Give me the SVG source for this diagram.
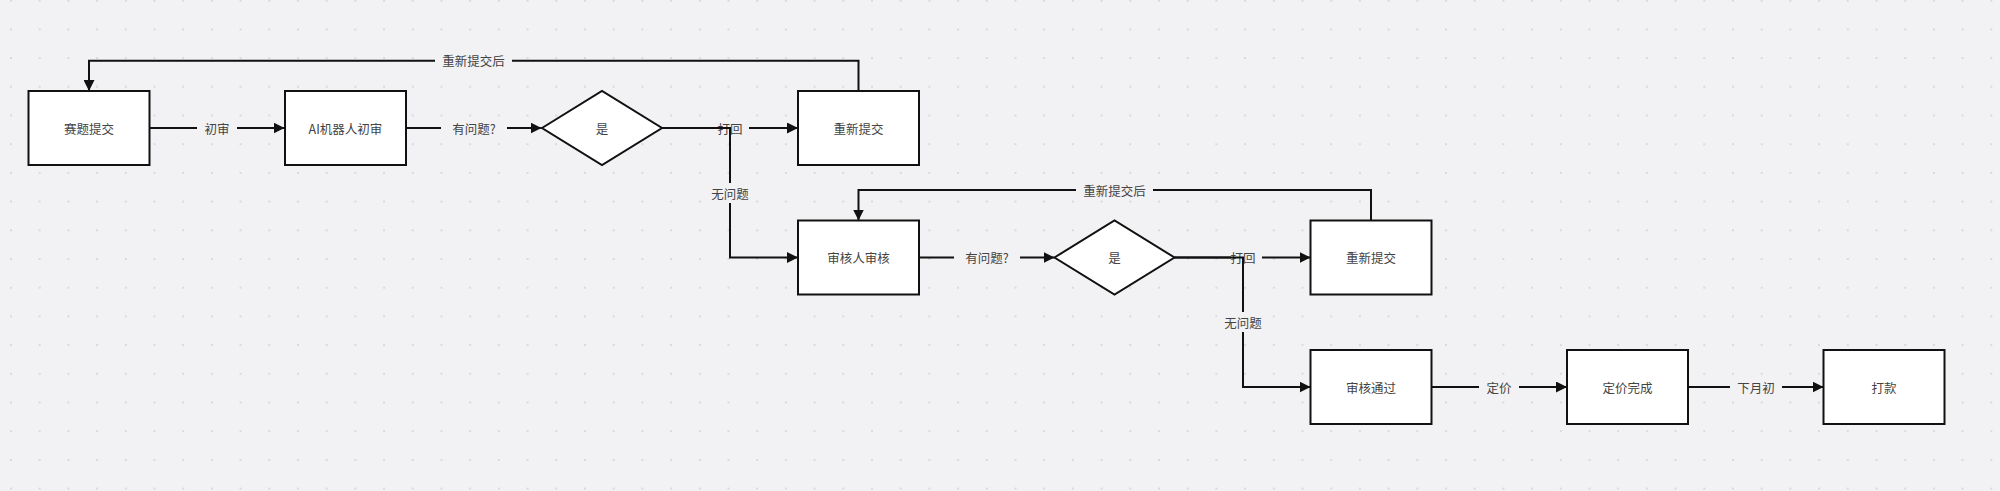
<svg xmlns="http://www.w3.org/2000/svg" width="2000" height="491" viewBox="0 0 2000 491">
<defs>
<pattern id="dots" patternUnits="userSpaceOnUse" x="10" y="-0.3" width="28.7" height="28.7">
<circle cx="1" cy="1" r="1" fill="#d2d2d6"/>
</pattern>
<marker id="arr" markerUnits="userSpaceOnUse" markerWidth="11" markerHeight="11" refX="10" refY="5" orient="auto" viewBox="0 0 10 10">
<path d="M0,0 L10,5 L0,10 z" fill="#111"/>
</marker>
<style>
.box{fill:#ffffff;stroke:#111;stroke-width:2}
.nt{font-family:"Noto Sans CJK SC","Noto Sans",sans-serif;font-size:12.5px;fill:#444;text-anchor:middle;dominant-baseline:central}
.ln{fill:none;stroke:#111;stroke-width:2}
.arw{marker-end:url(#arr)}
.lb{fill:#f2f2f4}
.lt{font-family:"Noto Sans CJK SC","Noto Sans",sans-serif;font-size:12.5px;fill:#444;text-anchor:middle;dominant-baseline:central}
</style>
</defs>
<rect width="2000" height="491" fill="#f2f2f4"/>
<rect width="2000" height="491" fill="url(#dots)"/>

<g id="connectors">
<g id="e1"><path class="ln arw" d="M149.5,128 H284.5"/><rect class="lb" x="197" y="119" width="40" height="18"/><text class="lt" x="217" y="128">初审</text></g>
<g id="e2"><path class="ln arw" d="M406,128 H541.5"/><rect class="lb" x="441" y="119" width="66" height="18"/><text class="lt" x="474" y="128">有问题?</text></g>
<g id="e3"><path class="ln arw" d="M662,128 H798"/><rect class="lb" x="718" y="119" width="31" height="18"/><text class="lt" x="730" y="128">打回</text></g>
<g id="e4"><path class="ln arw" d="M662,128 H730 V257.5 H798"/><rect class="lb" x="704" y="183" width="52" height="20"/><text class="lt" x="730" y="193">无问题</text></g>
<g id="e5"><path class="ln arw" d="M858.5,91 V60.7 H89 V91"/><rect class="lb" x="435" y="51.7" width="77" height="18"/><text class="lt" x="473.5" y="60.7">重新提交后</text></g>
<g id="e6"><path class="ln arw" d="M919,257.5 H1054.5"/><rect class="lb" x="954" y="248.5" width="66" height="18"/><text class="lt" x="987" y="257.5">有问题?</text></g>
<g id="e7"><path class="ln arw" d="M1174.5,257.5 H1310.5"/><rect class="lb" x="1231" y="248.5" width="31" height="18"/><text class="lt" x="1243" y="257.5">打回</text></g>
<g id="e8"><path class="ln arw" d="M1174.5,257.5 H1243 V387 H1310.5"/><rect class="lb" x="1217" y="312" width="52" height="20"/><text class="lt" x="1243" y="322">无问题</text></g>
<g id="e9"><path class="ln arw" d="M1371,220.5 V190 H858.5 V220.5"/><rect class="lb" x="1076" y="181" width="77" height="18"/><text class="lt" x="1114.5" y="190">重新提交后</text></g>
<g id="e10"><path class="ln arw" d="M1431.5,387 H1567"/><rect class="lb" x="1479" y="378" width="40" height="18"/><text class="lt" x="1499" y="387">定价</text></g>
<g id="e11"><path class="ln arw" d="M1688,387 H1823.5"/><rect class="lb" x="1730" y="378" width="52" height="18"/><text class="lt" x="1756" y="387">下月初</text></g>
</g>

<g id="n1"><rect class="box" x="28.5" y="91" width="121" height="74"/><text class="nt" x="89" y="128">赛题提交</text></g>
<g id="n2"><rect class="box" x="285" y="91" width="121" height="74"/><text class="nt" x="345.5" y="128">AI机器人初审</text></g>
<g id="n3"><path class="box" d="M542,128 L602,91 L662,128 L602,165 z"/><text class="nt" x="602" y="128">是</text></g>
<g id="n4"><rect class="box" x="798" y="91" width="121" height="74"/><text class="nt" x="858.5" y="128">重新提交</text></g>
<g id="n5"><rect class="box" x="798" y="220.5" width="121" height="74"/><text class="nt" x="858.5" y="257.5">审核人审核</text></g>
<g id="n6"><path class="box" d="M1054.5,257.5 L1114.5,220.5 L1174.5,257.5 L1114.5,294.5 z"/><text class="nt" x="1114.5" y="257.5">是</text></g>
<g id="n7"><rect class="box" x="1310.5" y="220.5" width="121" height="74"/><text class="nt" x="1371" y="257.5">重新提交</text></g>
<g id="n8"><rect class="box" x="1310.5" y="350" width="121" height="74"/><text class="nt" x="1371" y="387">审核通过</text></g>
<g id="n9"><rect class="box" x="1567" y="350" width="121" height="74"/><text class="nt" x="1627.5" y="387">定价完成</text></g>
<g id="n10"><rect class="box" x="1823.5" y="350" width="121" height="74"/><text class="nt" x="1884" y="387">打款</text></g>
</svg>
